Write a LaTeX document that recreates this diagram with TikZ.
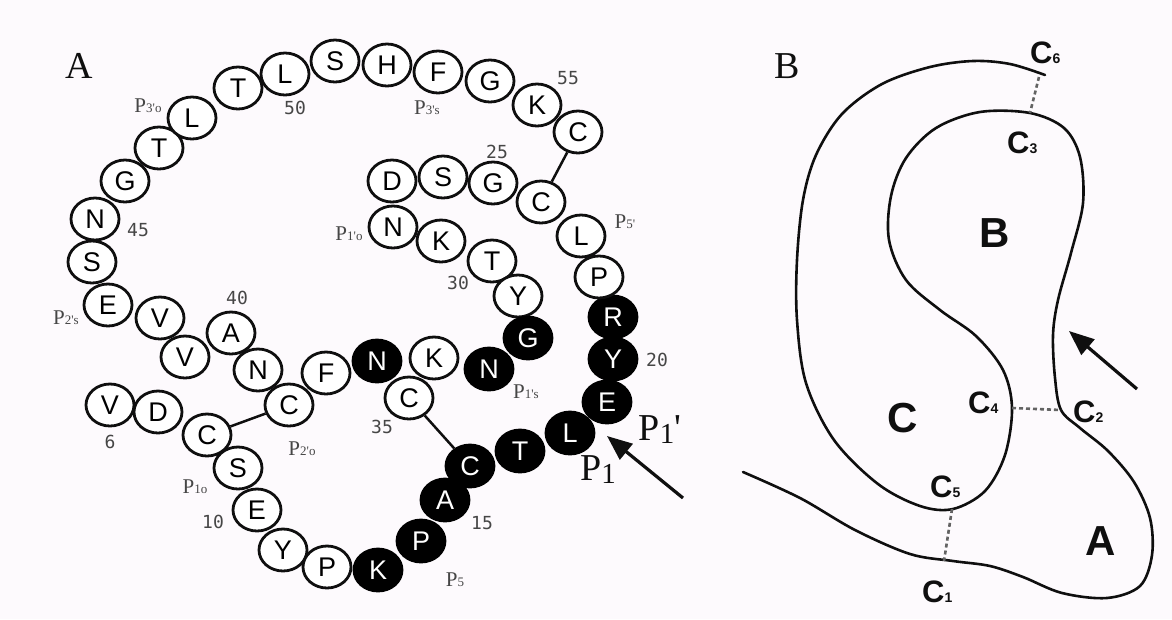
\documentclass[tikz,border=0pt]{standalone}
\usepackage{fontspec}
\setmainfont{Liberation Sans}
\newfontfamily\seriff{Liberation Serif}
\newfontfamily\monof{DejaVu Sans Mono}
\usetikzlibrary{shapes.geometric,arrows.meta}
\definecolor{bg}{RGB}{253,250,253}
\definecolor{ink}{RGB}{15,15,15}
\definecolor{numc}{RGB}{70,70,70}
\begin{document}
\begin{tikzpicture}[x=1pt,y=-1pt,
  res/.style={ellipse,draw=ink,line width=2.8pt,fill=white,minimum width=48pt,minimum height=42pt,inner sep=0pt,font=\fontsize{27}{27}\selectfont},
  resb/.style={res,fill=black,draw=black,text=white},
  num/.style={font=\monof\fontsize{18}{18}\selectfont,text=numc,inner sep=0pt},
  plab/.style={font=\seriff\fontsize{21}{21}\selectfont,text=numc,inner sep=0pt},
  bigp/.style={font=\seriff\fontsize{38}{38}\selectfont,text=ink,inner sep=0pt},
  panel/.style={font=\seriff\fontsize{38}{38}\selectfont,text=ink,inner sep=0pt},
  ssbond/.style={line width=2.5pt,draw=ink},
  bigarrow/.style={line width=3.2pt,draw=ink,-{Triangle[length=25pt,width=20pt]}},
  curve/.style={line width=2.6pt,draw=ink,line join=round,line cap=round},
  dashline/.style={line width=2.6pt,draw=ink!65,dash pattern=on 4pt off 3pt},
  clab/.style={font=\bfseries\fontsize{31}{31}\selectfont,text=ink,inner sep=0pt,anchor=base west},
  region/.style={font=\bfseries\fontsize{42}{42}\selectfont,text=ink,inner sep=0pt}
]
\fill[bg] (0,0) rectangle (1172,619);
\useasboundingbox (0,0) rectangle (1172,619);

% ---------------- Panel A ----------------
\node[panel] (pa) at (79,66) {A};

\node[res]  (r6)  at (110,405) {V};
\node[res]  (r7)  at (158,412) {D};
\node[res]  (r8)  at (207,435) {C};
\node[res]  (r9)  at (238,468) {S};
\node[res]  (r10) at (257,510) {E};
\node[res]  (r11) at (283,550) {Y};
\node[res]  (r12) at (327,567) {P};
\node[resb] (r13) at (378,570) {K};
\node[resb] (r14) at (421,541) {P};
\node[resb] (r15) at (445,500) {A};
\node[resb] (r16) at (470,466) {C};
\node[resb] (r17) at (520,451) {T};
\node[resb] (r18) at (570,433) {L};
\node[resb] (r19) at (607,402) {E};
\node[resb] (r20) at (613,359) {Y};
\node[resb] (r21) at (613,317) {R};
\node[res]  (r22) at (599,277) {P};
\node[res]  (r23) at (581,236) {L};
\node[res]  (r24) at (541,202) {C};
\node[res]  (r25) at (493,183) {G};
\node[res]  (r26) at (443,177) {S};
\node[res]  (r27) at (392,181) {D};
\node[res]  (r28) at (393,227) {N};
\node[res]  (r29) at (441,241) {K};
\node[res]  (r30) at (492,261) {T};
\node[res]  (r31) at (518,296) {Y};
\node[resb] (r32) at (528,338) {G};
\node[resb] (r33) at (489,369) {N};
\node[res]  (r34) at (434,358) {K};
\node[res]  (r35) at (409,398) {C};
\node[resb] (r36) at (377,361) {N};
\node[res]  (r37) at (326,373) {F};
\node[res]  (r38) at (289,405) {C};
\node[res]  (r39) at (258,370) {N};
\node[res]  (r40) at (231,333) {A};
\node[res]  (r41) at (185,357) {V};
\node[res]  (r42) at (160,318) {V};
\node[res]  (r43) at (108,305) {E};
\node[res]  (r44) at (92,262) {S};
\node[res]  (r45) at (95,219) {N};
\node[res]  (r46) at (125,181) {G};
\node[res]  (r47) at (159,148) {T};
\node[res]  (r48) at (192,118) {L};
\node[res]  (r49) at (238,88) {T};
\node[res]  (r50) at (285,74) {L};
\node[res]  (r51) at (335,61) {S};
\node[res]  (r52) at (387,65) {H};
\node[res]  (r53) at (438,72) {F};
\node[res]  (r54) at (490,81) {G};
\node[res]  (r55) at (537,105) {K};
\node[res]  (r56) at (578,132) {C};

\draw[ssbond] (r56) -- (r24);
\draw[ssbond] (r38) -- (r8);
\draw[ssbond] (r35) -- (r16);

% residue numbers
\node[num] (n6)  at (110,442) {6};
\node[num] (n10) at (213,522) {10};
\node[num] (n15) at (482,523) {15};
\node[num] (n20) at (657,360) {20};
\node[num] (n25) at (497,152) {25};
\node[num] (n30) at (458,283) {30};
\node[num] (n35) at (382,427) {35};
\node[num] (n40) at (237,298) {40};
\node[num] (n45) at (138,230) {45};
\node[num] (n50) at (295,108) {50};
\node[num] (n55) at (568,78) {55};

% P labels
\node[plab] (p3o) at (148,106) {P{\fontsize{13}{13}\selectfont 3\textquotesingle o}};
\node[plab] (p3s) at (427,108) {P{\fontsize{13}{13}\selectfont 3\textquotesingle s}};
\node[plab] (p1o) at (349,234) {P{\fontsize{13}{13}\selectfont 1\textquotesingle o}};
\node[plab] (p5p) at (625,222) {P{\fontsize{13}{13}\selectfont 5\textquotesingle}};
\node[plab] (p2s) at (66,318) {P{\fontsize{13}{13}\selectfont 2\textquotesingle s}};
\node[plab] (p1s) at (526,392) {P{\fontsize{13}{13}\selectfont 1\textquotesingle s}};
\node[plab] (p2o) at (302,449) {P{\fontsize{13}{13}\selectfont 2\textquotesingle o}};
\node[plab] (p10) at (195,487) {P{\fontsize{13}{13}\selectfont 1o}};
\node[plab] (p5)  at (455,580) {P{\fontsize{13}{13}\selectfont 5}};
\node[bigp] (pp1p) at (660,430) {P\raisebox{-3pt}{\fontsize{29}{29}\selectfont 1}\textquotesingle};
\node[bigp] (pp1)  at (598,470) {P\raisebox{-3pt}{\fontsize{29}{29}\selectfont 1}};

\coordinate (atail) at (683,498);
\coordinate (ahead) at (607,436);
\draw[bigarrow] (atail) -- (ahead);

% ---------------- Panel B ----------------
\node[panel] (pb) at (787,66) {B};

\draw[curve] plot[smooth,tension=0.55] coordinates {
 (1045,75) (1010,64) (973,61) (930,67) (882,84) (842,114) (816,155) (803,200)
 (797,260) (797,320) (806,383) (834,440) (878,484) (920,506) (953,509)
 (985,491) (1005,455) (1012,408) (1003,370) (976,336) (940,310) (906,280)
 (889,240) (891,196) (906,158) (936,128) (980,112) (1030,113) (1064,128)
 (1080,157) (1083,203) (1071,253) (1058,300) (1053,335) (1055,378) (1061,410)
 (1080,428) (1108,451) (1134,482) (1150,518) (1152,555) (1140,586) (1107,598)
 (1062,593) (1023,577) (990,566) (953,561) (910,554) (855,530) (800,498) (743,472)};

\coordinate (b6) at (1039,77);
\coordinate (b3) at (1030,113);
\coordinate (b4) at (1012,408);
\coordinate (b2) at (1061,410);
\coordinate (b5) at (952,509);
\coordinate (b1) at (944,561);
\draw[dashline] (b6) -- (b3);
\draw[dashline] (b4) -- (b2);
\draw[dashline] (b5) -- (b1);

\node[clab] (c6) at (1030,63) {C{\fontsize{14}{14}\selectfont 6}};
\node[clab] (c3) at (1007,153) {C{\fontsize{14}{14}\selectfont 3}};
\node[clab] (c4) at (968,413) {C{\fontsize{14}{14}\selectfont 4}};
\node[clab] (c2) at (1073,422) {C{\fontsize{14}{14}\selectfont 2}};
\node[clab] (c5) at (930,497) {C{\fontsize{14}{14}\selectfont 5}};
\node[clab] (c1) at (922,602) {C{\fontsize{14}{14}\selectfont 1}};

\node[region] (rb) at (995,233) {B};
\node[region] (rc) at (903,418) {C};
\node[region] (ra) at (1101,541) {A};

\coordinate (btail) at (1137,389);
\coordinate (bhead) at (1069,331);
\draw[bigarrow] (btail) -- (bhead);
\end{tikzpicture}
\end{document}
